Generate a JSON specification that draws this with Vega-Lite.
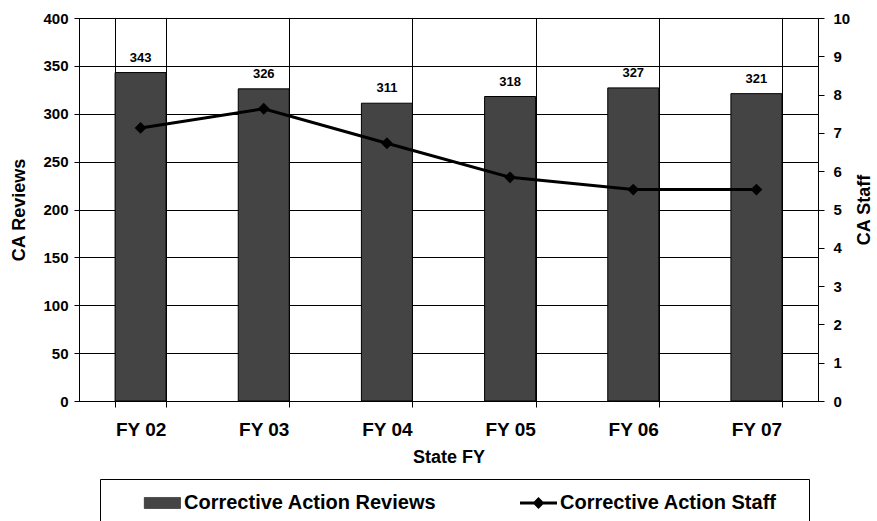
{
  "$schema": "https://vega.github.io/schema/vega-lite/v6.json",
  "width": 739,
  "height": 383,
  "autosize": "none",
  "padding": {"left": 79, "top": 18, "right": 59, "bottom": 120},
  "background": "white",
  "config": {
    "font": "Liberation Sans",
    "view": {"stroke": "black", "strokeWidth": 1},
    "axis": {
      "labelFontWeight": "bold",
      "titleFontWeight": "bold",
      "labelColor": "black",
      "titleColor": "black",
      "domainColor": "black",
      "tickColor": "black",
      "gridColor": "black",
      "gridOpacity": 1,
      "gridWidth": 1
    },
    "legend": {
      "labelFont": "Liberation Sans",
      "labelFontSize": 20,
      "labelFontWeight": "bold",
      "labelColor": "black",
      "labelLimit": 500,
      "labelOffset": 3,
      "clipHeight": 26,
      "padding": 11,
      "symbolOpacity": 1
    }
  },
  "data": {
    "values": [
      {"fy": "FY 02", "reviews": 343, "staff": 7.13},
      {"fy": "FY 03", "reviews": 326, "staff": 7.63},
      {"fy": "FY 04", "reviews": 311, "staff": 6.73},
      {"fy": "FY 05", "reviews": 318, "staff": 5.84},
      {"fy": "FY 06", "reviews": 327, "staff": 5.52},
      {"fy": "FY 07", "reviews": 321, "staff": 5.52}
    ]
  },
  "encoding": {
    "x": {
      "field": "fy",
      "type": "nominal",
      "sort": null,
      "scale": {"paddingInner": 0.586, "paddingOuter": 0.293},
      "axis": {
        "title": "State FY",
        "titleFontSize": 18,
        "titlePadding": 9,
        "labelFontSize": 19,
        "labelAngle": 0,
        "labelPadding": 13,
        "tickBand": "extent",
        "tickSize": 6,
        "grid": true,
        "domain": true
      }
    }
  },
  "layer": [
    {
      "encoding": {
        "y": {
          "field": "reviews",
          "type": "quantitative",
          "scale": {"domain": [0, 400]},
          "axis": {
            "title": "CA Reviews",
            "titleFontSize": 18,
            "titlePadding": 14,
            "labelFontSize": 15,
            "values": [0, 50, 100, 150, 200, 250, 300, 350, 400],
            "tickSize": 5,
            "labelPadding": 6,
            "grid": true
          }
        }
      },
      "layer": [
        {
          "mark": {"type": "bar", "stroke": "black", "strokeWidth": 1},
          "encoding": {
            "color": {
              "datum": "Corrective Action Reviews",
              "type": "nominal",
              "scale": {"range": ["#444444"]},
              "legend": {
                "orient": "none",
                "legendX": 21,
                "legendY": 461,
                "direction": "horizontal",
                "title": "  ",
                "titleOrient": "right",
                "titleFontSize": 12,
                "titlePadding": 362,
                "strokeColor": "black",
                "symbolSize": 4761,
                "symbolType": "M-0.05,-0.16L1,-0.16L1,0.16L-0.05,0.16Z",
                "symbolStrokeColor": "black",
                "symbolStrokeWidth": 0.5
              }
            }
          }
        },
        {
          "mark": {"type": "text", "fontWeight": "bold", "fontSize": 13, "dy": -15, "baseline": "middle", "color": "black"},
          "encoding": {
            "text": {"field": "reviews", "type": "quantitative"}
          }
        }
      ]
    },
    {
      "encoding": {
        "y": {
          "field": "staff",
          "type": "quantitative",
          "scale": {"domain": [0, 10]},
          "axis": {
            "orient": "right",
            "title": "CA Staff",
            "titleFontSize": 18,
            "titleAngle": -90,
            "titlePadding": 24,
            "labelFontSize": 15,
            "values": [0, 1, 2, 3, 4, 5, 6, 7, 8, 9, 10],
            "labelOverlap": false,
            "tickSize": 6,
            "labelPadding": 9,
            "grid": false
          }
        }
      },
      "layer": [
        {
          "mark": {"type": "line", "stroke": "black", "strokeWidth": 3},
          "encoding": {}
        },
        {
          "mark": {"type": "point", "shape": "diamond", "filled": true, "size": 140, "opacity": 1},
          "encoding": {
            "color": {
              "datum": "Corrective Action Staff",
              "type": "nominal",
              "scale": {"range": ["black"]},
              "legend": {
                "orient": "none",
                "legendX": 430,
                "legendY": 461,
                "direction": "horizontal",
                "title": null,
                "symbolSize": 1369,
                "symbolType": "M-1,-0.08L1,-0.08L1,0.08L-1,0.08Z M-0.32,0L0,-0.32L0.32,0L0,0.32Z",
                "symbolFillColor": "black",
                "symbolStrokeColor": "black",
                "symbolStrokeWidth": 0
              }
            }
          }
        }
      ]
    }
  ],
  "resolve": {"scale": {"y": "independent", "color": "independent"}}
}
